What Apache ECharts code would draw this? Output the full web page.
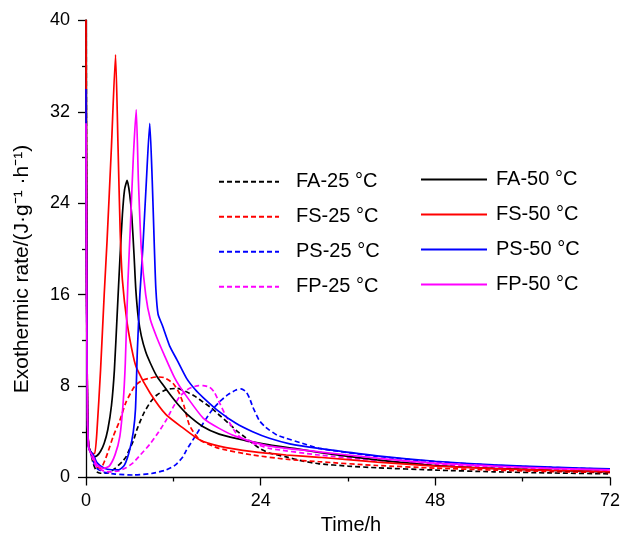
<!DOCTYPE html>
<html>
<head>
<meta charset="utf-8">
<script src="https://cdn.jsdelivr.net/npm/echarts@6/dist/echarts.min.js"></script>
<style>
html,body{margin:0;padding:0;background:#fff;}
#chart{width:623px;height:534px;}
</style>
</head>
<body>
<div id="chart"></div>
<script>
// ---- data: [time (h), exothermic rate (J/g/h)] ----
const FA25 = [[0,48],[0.1,16],[0.2,6],[0.35,2.8],[0.6,2.3],[1.0,1.2],[1.5,0.5],[2,0.37],[3,0.4],[4,0.8],[5,1.4],[5.5,1.8],[6.0,2.5],[6.5,3.2],[7.0,4.2],[7.5,5.0],[8.0,5.7],[8.85,6.6],[9.7,7.2],[10.7,7.6],[11.5,7.75],[12.5,7.8],[13.8,7.5],[15,7.1],[16.1,6.6],[17.2,6.1],[18.3,5.47],[19.5,4.8],[20.6,4.15],[21.8,3.55],[22.9,3.0],[24,2.5],[25.2,2.15],[27.5,1.8],[29.7,1.45],[32,1.2],[36,1.0],[40,0.85],[48,0.65],[56,0.5],[64,0.4],[72,0.32]];
const FA50 = [[0,44],[0.1,16],[0.2,6],[0.35,2.8],[0.6,2.3],[1.0,1.8],[1.5,1.9],[2.0,2.3],[2.5,3.0],[3.0,4.2],[3.5,6.3],[3.9,9.4],[4.3,14.5],[4.65,19],[5.0,23],[5.3,25.2],[5.66,26],[6.0,24.8],[6.3,22.8],[6.6,19.5],[6.85,16.4],[7.2,13.9],[7.6,12.4],[8.2,11],[8.85,10],[9.7,8.9],[10.7,8.0],[11.5,7.3],[12.5,6.5],[13.8,5.6],[16.1,4.45],[18.3,3.8],[20.6,3.43],[25.2,2.85],[29,2.5],[32,2.2],[36,1.85],[40,1.55],[48,1.05],[56,0.8],[64,0.62],[72,0.5]];
const FS25 = [[0,40],[0.1,16],[0.2,6],[0.35,2.8],[0.6,2.3],[1.0,1.8],[1.5,0.9],[2.0,0.8],[2.6,1.5],[3.0,2.2],[3.74,3.6],[4.65,5.0],[5.5,6.6],[6.7,8.0],[7.7,8.5],[8.85,8.7],[9.7,8.8],[10.7,8.75],[11.95,8.25],[12.8,7.4],[13.5,6.2],[14.2,4.6],[15.6,3.3],[18.3,2.55],[22.9,1.97],[27.5,1.6],[32,1.38],[40,1.05],[48,0.82],[56,0.65],[64,0.52],[72,0.43]];
const FS50 = [[0,41],[0.1,16],[0.2,6],[0.35,2.8],[0.6,2.3],[0.9,2.1],[1.2,2.1],[1.5,4],[2.0,9.4],[2.5,16],[2.9,20.8],[3.5,29],[4.06,37],[4.4,29],[4.7,21.5],[5.0,17.3],[5.66,13.5],[6.5,10.6],[7.0,9.5],[8.8,7.4],[11,5.5],[13.4,4.3],[15.6,3.3],[18.3,2.75],[22.9,2.26],[27.5,1.97],[32,1.77],[40,1.35],[48,1.0],[56,0.78],[64,0.62],[72,0.52]];
const PS25 = [[0,35],[0.1,15],[0.2,5.5],[0.35,2.7],[0.6,2.2],[1.0,1.4],[1.5,0.8],[2.5,0.45],[4,0.3],[6.5,0.22],[9,0.35],[11,0.66],[12.3,1.1],[13.3,1.8],[13.8,2.4],[15,3.6],[16.1,4.74],[17.2,5.8],[18.3,6.6],[19.5,7.25],[20.6,7.66],[21.3,7.75],[22.0,7.5],[22.5,6.9],[22.9,6.2],[23.4,5.5],[23.8,5.0],[24.5,4.5],[25.2,4.15],[26.3,3.7],[27.5,3.43],[29.7,3.0],[32,2.55],[40,1.85],[48,1.38],[56,1.07],[64,0.87],[72,0.72]];
const PS50 = [[0,34],[0.1,15],[0.2,5.5],[0.35,2.7],[0.6,2.3],[1.0,2.0],[1.5,1.3],[2.5,0.8],[3.5,0.68],[4.5,0.68],[5.3,1.1],[6.0,2.4],[6.5,4.0],[6.8,6.0],[7.05,11],[7.4,16],[7.8,20],[8.3,26],[8.76,31],[9.1,26],[9.4,20],[9.6,16.5],[9.9,14.3],[10.5,13.3],[11.5,11.5],[12.5,10.3],[13.8,8.7],[15,7.7],[16.1,7.0],[18.3,5.76],[20.6,4.74],[22.9,4.0],[25.2,3.43],[28,2.95],[32,2.55],[40,1.9],[48,1.42],[56,1.1],[64,0.9],[72,0.76]];
const FP25 = [[0,32],[0.1,14],[0.2,5.5],[0.35,2.7],[0.6,2.2],[1.0,1.5],[1.5,0.9],[2.5,0.55],[3.5,0.5],[4.6,0.6],[5.5,0.85],[6.5,1.3],[7.5,2.0],[8.76,2.9],[10,4.0],[11,5.0],[11.5,5.6],[12.2,6.4],[12.9,7.1],[14.2,7.8],[15.5,8.05],[16.1,8.05],[17.0,7.9],[17.6,7.5],[18.3,6.6],[19.3,5.3],[20.6,3.9],[21.7,3.3],[22.9,3.0],[25.2,2.55],[32,1.97],[40,1.5],[48,1.15],[56,0.92],[64,0.75],[72,0.62]];
const FP50 = [[0,31],[0.1,14],[0.2,5.5],[0.35,2.7],[0.6,2.2],[1.0,1.8],[1.5,1.1],[2.4,0.8],[3.2,1.0],[4.0,2.0],[4.65,3.6],[5.1,6.5],[5.4,10],[5.75,17],[6.1,22],[6.5,28],[6.9,32.2],[7.2,26],[7.6,20],[8.2,16],[8.85,13.8],[9.7,12.3],[10.7,10.8],[12.2,8.7],[13.6,7.3],[16.1,5.2],[18.3,4.3],[20.6,3.6],[25.2,2.75],[32,2.25],[40,1.7],[48,1.25],[56,1.0],[64,0.8],[72,0.67]];

const names25 = ['FA-25 °C','FS-25 °C','PS-25 °C','FP-25 °C'];
const names50 = ['FA-50 °C','FS-50 °C','PS-50 °C','FP-50 °C'];
const colors = ['#000000','#ff0000','#0000ff','#ff00ff'];
const data25 = [FA25, FS25, PS25, FP25];
const data50 = [FA50, FS50, PS50, FP50];
const xTicks = [0, 24, 48, 72];
const yTicks = [0, 8, 16, 24, 32, 40];

const FONT = '"Liberation Sans", Arial, Helvetica, sans-serif';

const series = [];
for (let i = 0; i < 4; i++) {
  series.push({
    name: names25[i], type: 'line', data: data25[i], showSymbol: false, symbol: 'none',
    smooth: 0.2, clip: true,
    lineStyle: { color: colors[i], width: 1.7, type: [5, 3] }, itemStyle: { color: colors[i] }
  });
}
for (let i = 0; i < 4; i++) {
  series.push({
    name: names50[i], type: 'line', data: data50[i], showSymbol: false, symbol: 'none',
    smooth: 0.2, clip: true,
    lineStyle: { color: colors[i], width: 1.7, type: 'solid' }, itemStyle: { color: colors[i] }
  });
}

const chart = echarts.init(document.getElementById('chart'), null, { renderer: 'canvas' });
chart.setOption({
  animation: false,
  backgroundColor: '#ffffff',
  textStyle: { fontFamily: FONT },
  grid: { left: 86, right: 11, top: 20.5, bottom: 56.5, containLabel: false },
  xAxis: {
    type: 'value', min: xTicks[0], max: xTicks[xTicks.length - 1], interval: 24,
    axisLine: { show: true, lineStyle: { color: '#000', width: 1.3 } },
    axisTick: { show: true, inside: false, length: 8, lineStyle: { color: '#000', width: 1.3 } },
    minorTick: { show: true, splitNumber: 2, length: 4, lineStyle: { color: '#000', width: 1.3 } },
    splitLine: { show: false },
    axisLabel: { color: '#000', fontSize: 18, fontFamily: FONT, margin: 15 }
  },
  yAxis: {
    type: 'value', min: yTicks[0], max: yTicks[yTicks.length - 1], interval: 8,
    axisLine: { show: true, lineStyle: { color: '#000', width: 1.3 } },
    axisTick: { show: true, inside: false, length: 8, lineStyle: { color: '#000', width: 1.3 } },
    minorTick: { show: true, splitNumber: 2, length: 4, lineStyle: { color: '#000', width: 1.3 } },
    splitLine: { show: false },
    axisLabel: { color: '#000', fontSize: 18, fontFamily: FONT, margin: 16 }
  },
  legend: [
    {
      data: names25, orient: 'vertical', left: 218, top: 171.7, itemWidth: 60, itemHeight: 20, itemGap: 15,
      selectedMode: false, padding: 0,
      itemStyle: { opacity: 0, borderWidth: 0 },
      lineStyle: { width: 2 },
      textStyle: { color: '#000', fontSize: 20, fontFamily: FONT, padding: [0, 0, 0, 12] }
    },
    {
      data: names50, orient: 'vertical', left: 420, top: 169.5, itemWidth: 66, itemHeight: 20, itemGap: 15,
      selectedMode: false, padding: 0,
      itemStyle: { opacity: 0, borderWidth: 0 },
      lineStyle: { width: 2 },
      textStyle: { color: '#000', fontSize: 20, fontFamily: FONT, padding: [0, 0, 0, 4] }
    }
  ],
  graphic: [
    {
      type: 'text', x: 22, y: 269, rotation: Math.PI / 2,
      style: { text: 'Exothermic rate/(J·g⁻¹ ·h⁻¹)', fill: '#000', fontSize: 21, fontFamily: FONT,
               align: 'center', verticalAlign: 'middle' }
    },
    {
      type: 'text', x: 351, y: 525,
      style: { text: 'Time/h', fill: '#000', fontSize: 20, fontFamily: FONT,
               align: 'center', verticalAlign: 'middle' }
    }
  ],
  series: series
});
</script>
</body>
</html>
